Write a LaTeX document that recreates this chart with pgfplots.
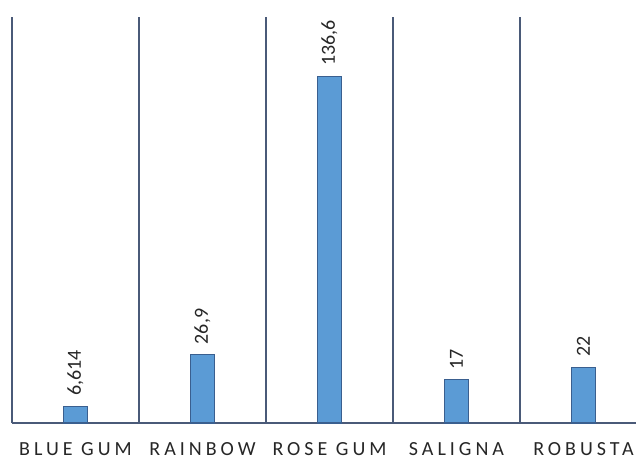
\documentclass[border=0pt]{standalone}
\usepackage{fontspec}
\setmainfont{Carlito}
\newfontfamily\spaced[LetterSpace=20]{Carlito}
\usepackage{pgfplots}
\pgfplotsset{compat=1.18}
\definecolor{barfill}{HTML}{5B9BD5}
\definecolor{bardraw}{HTML}{3A5F8F}
\definecolor{axline}{HTML}{4A5A78}
\definecolor{txt}{HTML}{262626}
\begin{document}
\begin{tikzpicture}
\path[use as bounding box] (-12bp,-36bp) rectangle (624bp,423bp);
\begin{axis}[
  scale only axis, width=635bp, height=406bp,
  xmin=-0.5, xmax=4.5, ymin=0, ymax=160,
  axis x line*=bottom, axis y line=none,
  x axis line style={axline, line width=1.5bp, -},
  xtick={0,1,2,3,4},
  xticklabels={BLUE GUM, RAINBOW, ROSE GUM, SALIGNA, ROBUSTA},
  major tick length=0pt,
  minor xtick={-0.5,0.5,1.5,2.5,3.5,4.5},
  xminorgrids=true,
  minor grid style={axline, line width=1.5bp},
  minor tick length=0pt,
  xticklabel style={font=\spaced\fontsize{20bp}{22bp}\selectfont, text=txt, anchor=base, inner sep=0pt, yshift=-32.5bp},
  ybar, bar width=24bp,
  nodes near coords, point meta=explicit symbolic,
  every node near coord/.append style={anchor=west, rotate=90, inner sep=0pt, xshift=10bp, font=\fontsize{20bp}{22bp}\selectfont, text=txt},
  clip=false,
]
\addplot[fill=barfill, draw=bardraw, line width=1.2bp] table[x=x, y=y, meta=label] {
x y label
0 6.614 6,614
1 26.9 26,9
2 136.6 136,6
3 17 17
4 22 22
};
\end{axis}
\end{tikzpicture}
\end{document}
